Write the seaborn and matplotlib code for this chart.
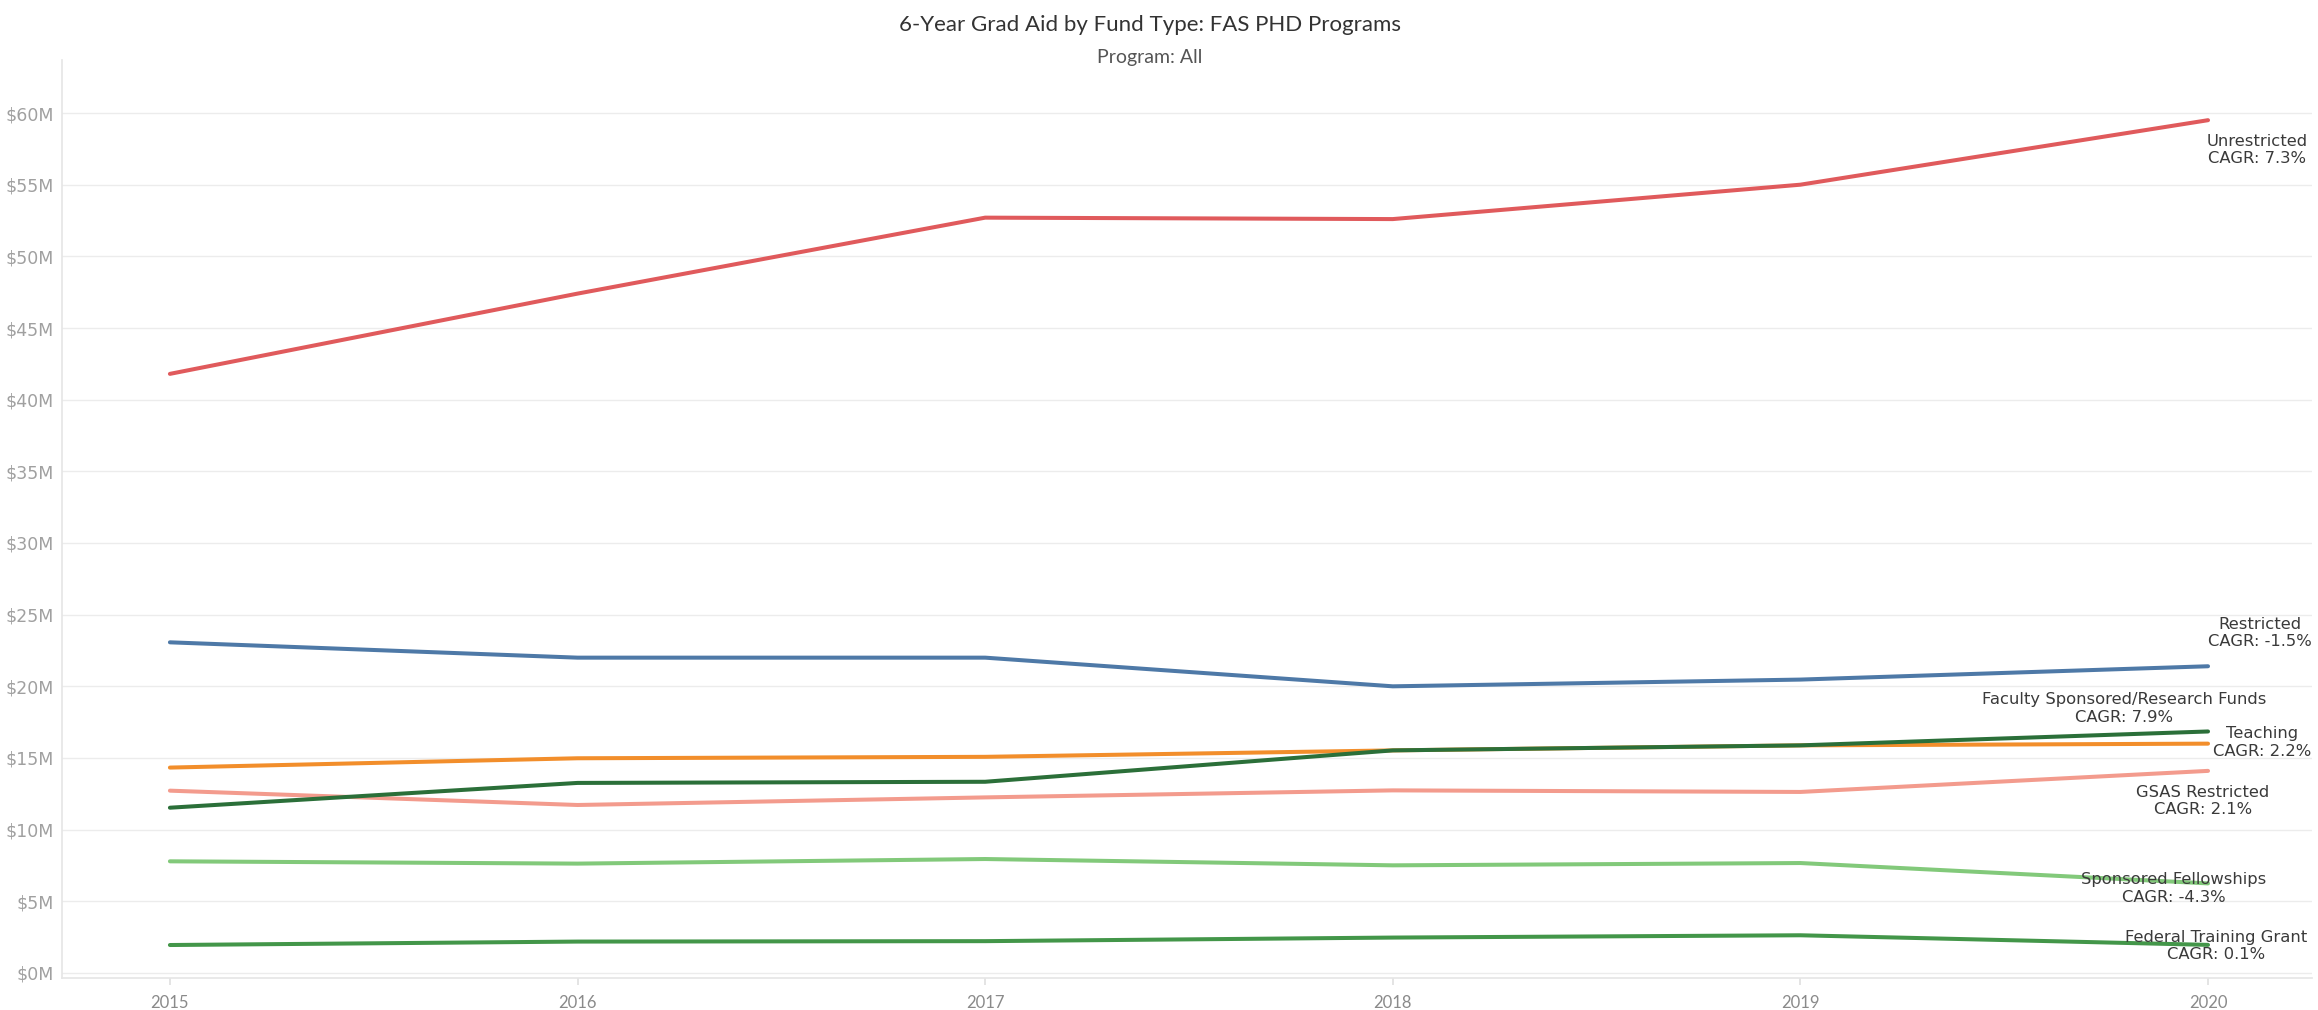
import numpy as np
import pandas as pd
import matplotlib
matplotlib.use("Agg")
import matplotlib.pyplot as plt
import seaborn as sns

# Fiscal years and aid amounts by fund type (in $M)
years = [2015, 2016, 2017, 2018, 2019, 2020]
unrestricted = [41.8, 47.4, 52.7, 52.6, 55.0, 59.5]
restricted = [23.07, 22.0, 22.0, 20.0, 20.47, 21.4]
teaching = [14.33, 14.98, 15.08, 15.53, 15.88, 16.0]
gsas_restricted = [12.72, 11.72, 12.25, 12.74, 12.63, 14.1]
faculty_sponsored = [11.53, 13.26, 13.34, 15.53, 15.88, 16.85]
sponsored_fellowships = [7.79, 7.63, 7.95, 7.51, 7.67, 6.25]
federal_training = [1.95, 2.19, 2.22, 2.47, 2.63, 1.96]

fund_types = ["Unrestricted", "Restricted", "Teaching", "GSAS Restricted",
              "Faculty Sponsored/Research Funds", "Sponsored Fellowships",
              "Federal Training Grant"]
series = [unrestricted, restricted, teaching, gsas_restricted,
          faculty_sponsored, sponsored_fellowships, federal_training]
colors = ["#e05a5c", "#4e79a7", "#f28e2b", "#f39b8d",
          "#2b6f39", "#82c97a", "#439649"]

# label offsets (pixels) from each series' final point
label_offsets = {
    "Unrestricted": (49, -30),
    "Restricted": (52, 33),
    "Teaching": (54, 1),
    "GSAS Restricted": (-5, -30),
    "Faculty Sponsored/Research Funds": (-84, 23),
    "Sponsored Fellowships": (-34, -5),
    "Federal Training Grant": (8, -1),
}

df = pd.DataFrame({
    "Year": np.tile(years, len(fund_types)),
    "Fund": np.repeat(fund_types, len(years)),
    "Amount": np.concatenate(series),
})

sns.set_theme(style="white")
plt.rcParams["font.family"] = ["Lato", "DejaVu Sans"]

fig = plt.figure(figsize=(23.18, 10.1), dpi=100)
ax = fig.add_axes([0.0267, 0.0317, 0.9707, 0.9089])

sns.lineplot(data=df, x="Year", y="Amount", hue="Fund", hue_order=fund_types,
             palette=dict(zip(fund_types, colors)), linewidth=2.9,
             legend=False, ax=ax, solid_capstyle="round")

ax.set_xlim(2014.735, 2020.255)
ax.set_ylim(-0.35, 63.7)
ax.set_yticks(np.arange(0, 61, 5))
ax.set_yticklabels([f"${v}M" for v in range(0, 61, 5)],
                   family=["DejaVu Sans"])
ax.set_xticks(years)
ax.set_xticklabels([str(y) for y in years])
ax.set_xlabel("")
ax.set_ylabel("")

ax.grid(axis="y", color="#ececec", linewidth=1)
ax.set_axisbelow(True)
for side in ["top", "right"]:
    ax.spines[side].set_visible(False)
ax.spines["left"].set_color("#e6e6e6")
ax.spines["bottom"].set_color("#e6e6e6")
ax.tick_params(axis="y", length=0, labelsize=12.5, labelcolor="#a0a0a0", pad=6)
ax.tick_params(axis="x", length=5, color="#e0e0e0", labelsize=12,
               labelcolor="#8a8a8a", pad=7, bottom=True)

# end-of-line labels with compound annual growth rate
for name, vals in zip(fund_types, series):
    cagr = (vals[-1] / vals[0]) ** (1 / (len(vals) - 1)) - 1
    dx, dy = label_offsets[name]
    ax.annotate(f"{name}\nCAGR: {cagr * 100:.1f}%", xy=(years[-1], vals[-1]),
                xytext=(dx, dy), textcoords="offset pixels",
                ha="center", va="center", fontsize=11.75, color="#3a3a3a",
                linespacing=1.2, family=["DejaVu Sans"])

fig.text(0.496, 0.975, "6-Year Grad Aid by Fund Type: FAS PHD Programs",
         ha="center", va="center", fontsize=16, color="#333333")
fig.text(0.496, 0.943, "Program: All", ha="center", va="center",
         fontsize=14, color="#555555")

fig.savefig("out.png", dpi=100, facecolor="white")
